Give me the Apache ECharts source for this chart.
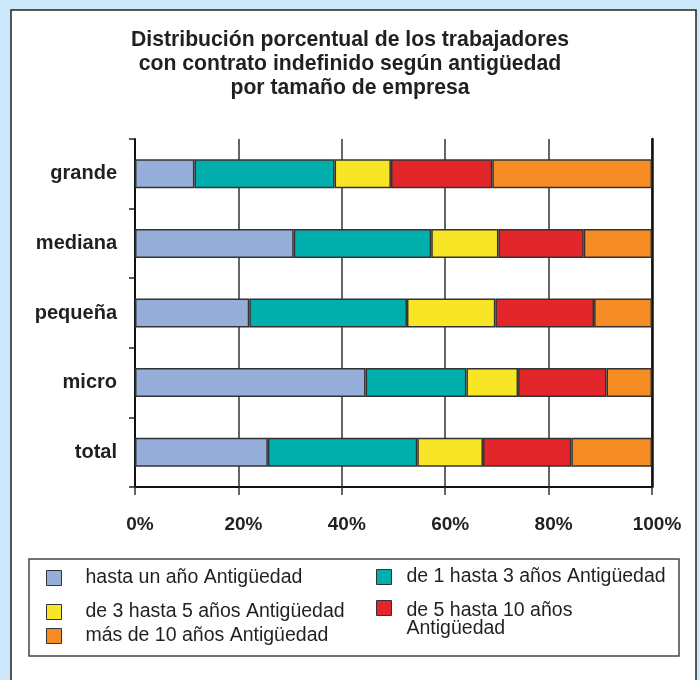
<!DOCTYPE html>
<html><head><meta charset="utf-8">
<script src="https://cdn.jsdelivr.net/npm/echarts@6/dist/echarts.min.js"></script>
<style>html,body{margin:0;padding:0;background:#cde8fa}#c{width:700px;height:680px}</style>
</head><body><div id="c"></div>
<script>
const titleText = 'Distribución porcentual de los trabajadores\ncon contrato indefinido según antigüedad\npor tamaño de empresa';
const categories = ['grande', 'mediana', 'pequeña', 'micro', 'total'];
const xTicks = [0, 20, 40, 60, 80, 100];
const seriesNames = ['hasta un año Antigüedad', 'de 1 hasta 3 años Antigüedad', 'de 3 hasta 5 años Antigüedad', 'de 5 hasta 10 años Antigüedad', 'más de 10 años Antigüedad'];
const hastaUnAno = [11.5, 30.7, 22.1, 44.6, 25.7];
const de1a3 = [27.1, 26.6, 30.5, 19.5, 28.9];
const de3a5 = [10.9, 13.0, 17.1, 10.0, 12.7];
const de5a10 = [19.6, 16.5, 19.1, 17.1, 17.1];
const mas10 = [30.9, 13.2, 11.2, 8.8, 15.6];
const colors = ['#95aeda', '#00afac', '#f8e526', '#e3262a', '#f68d24'];
const seriesData = [hastaUnAno, de1a3, de3a5, de5a10, mas10];

const FONT = 'Liberation Sans, Arial, Helvetica, sans-serif';
const chart = echarts.init(document.getElementById('c'));

function legendItem(i, left, top, pad, lh, fmt, rich) {
  return {
    data: [seriesNames[i]], left: left, top: top, padding: 0, orient: 'horizontal',
    icon: 'rect', itemWidth: 15, itemHeight: 15, selectedMode: false,
    itemStyle: { borderColor: '#333', borderWidth: 1 },
    formatter: fmt || (n => n),
    textStyle: { fontFamily: FONT, fontSize: 19.5, color: '#231f20', padding: pad, lineHeight: lh, rich: rich || {} }
  };
}

const option = {
  backgroundColor: '#cde8fa',
  animation: false,
  title: {
    text: titleText, left: 'center', top: 28, padding: [0, 0, 0, 7],
    textStyle: { fontFamily: FONT, fontSize: 21.2, fontWeight: 'bold', color: '#231f20', lineHeight: 24 }
  },
  graphic: [
    { type: 'rect', z: -10, shape: { x: 11, y: 10, width: 685, height: 700 }, style: { fill: '#ffffff', stroke: '#222', lineWidth: 1.5 } },
    { type: 'rect', z: -9, shape: { x: 29, y: 559, width: 650, height: 97 }, style: { fill: 'none', stroke: '#444', lineWidth: 1.5 } }
  ],
  legend: [
    legendItem(0, 46, 568, [0, 0, 0, 19], 20),
    legendItem(2, 46, 602, [0, 0, 0, 19], 20),
    legendItem(4, 46, 626, [0, 0, 0, 19], 20),
    legendItem(1, 376, 567, [0, 0, 0, 10], 20),
    legendItem(3, 376, 578, [0, 0, 0, 10], 18,
      n => '{b| }\n' + n.replace(' Antigüedad', '\nAntigüedad'),
      { b: { lineHeight: 24, fontSize: 10 } })
  ],
  grid: { left: 135, right: 48, top: 139, bottom: 193, containLabel: false },
  xAxis: {
    type: 'value', min: xTicks[0], max: xTicks[xTicks.length - 1], interval: 20,
    axisLine: { show: true, lineStyle: { color: '#111', width: 2 } },
    axisTick: { show: true, length: 8, lineStyle: { color: '#333', width: 1.5 } },
    splitLine: { show: true, lineStyle: { color: '#333', width: 1.5 } },
    axisLabel: { formatter: '{value}%', margin: 28, padding: [0, 0, 0, 10], fontFamily: FONT, fontSize: 19, fontWeight: 'bold', color: '#231f20' }
  },
  yAxis: [
    {
      type: 'category', data: categories, inverse: true,
      axisLine: { show: true, lineStyle: { color: '#111', width: 2 } },
      axisTick: { show: true, length: 6, lineStyle: { color: '#222', width: 1.5 } },
      axisLabel: { margin: 18, fontFamily: FONT, fontSize: 20, fontWeight: 'bold', color: '#231f20' }
    },
    {
      type: 'category', data: categories, inverse: true, position: 'right',
      axisLine: { show: true, lineStyle: { color: '#111', width: 2.5 } },
      axisTick: { show: false }, axisLabel: { show: false }, splitLine: { show: false }
    }
  ],
  series: seriesNames.map((n, i) => ({
    name: n, type: 'bar', stack: 'total', barWidth: 29,
    data: seriesData[i],
    itemStyle: { color: colors[i], borderColor: '#333', borderWidth: 1.5 }
  }))
};
chart.setOption(option);
</script>
</body></html>
